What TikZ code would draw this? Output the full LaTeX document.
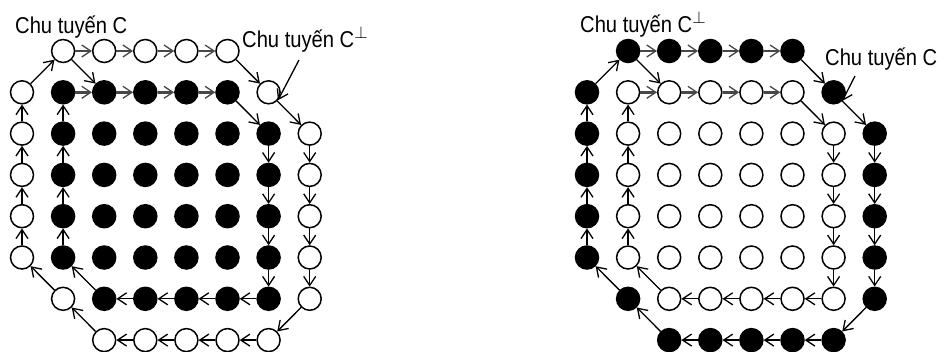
\documentclass[tikz,border=0pt]{standalone}
\usepackage{fontspec}
\setmainfont{Liberation Sans}[FakeStretch=0.88]
\usetikzlibrary{arrows.meta}
\begin{document}
\begin{tikzpicture}[x=1bp,y=-1bp,
  gdot/.style={circle,draw=black,line width=1.5bp,minimum size=23bp,inner sep=0pt},
  link/.style={line width=1.3bp,-{Straight Barb[length=9bp,width=12bp,line width=1.3bp]}},
  toplink/.style={link,line width=2.4bp,draw=black!72},
  lbl/.style={font=\fontsize{23}{26}\selectfont,inner sep=0pt,anchor=base west}]
\useasboundingbox (0,0) rectangle (944,351);
\foreach \p/\ox/\oc/\ic in {L/22/white/black, R/587/black/white} {
  % interior points
  \foreach \i in {2,...,5} \foreach \j in {2,...,5}
    \node[gdot,fill=\ic] (\p-\i-\j) at ({\ox+41.1*\i},{51+41.3*\j}) {};
  % outer contour points
  \foreach \i/\j in {1/0,2/0,3/0,4/0,5/0,6/1,7/2,7/3,7/4,7/5,7/6,6/7,5/7,4/7,3/7,2/7,1/6,0/5,0/4,0/3,0/2,0/1}
    \node[gdot,fill=\oc] (\p-\i-\j) at ({\ox+41.1*\i},{51+41.3*\j}) {};
  % inner contour points
  \foreach \i/\j in {1/1,2/1,3/1,4/1,5/1,6/2,6/3,6/4,6/5,6/6,5/6,4/6,3/6,2/6,1/5,1/4,1/3,1/2}
    \node[gdot,fill=\ic] (\p-\i-\j) at ({\ox+41.1*\i},{51+41.3*\j}) {};
  % top rows (thick)
  \foreach \a/\b in {1-0/2-0,2-0/3-0,3-0/4-0,4-0/5-0,1-1/2-1,2-1/3-1,3-1/4-1,4-1/5-1}
    \draw[toplink] (\p-\a) -- (\p-\b);
  % outer contour
  \foreach \a/\b in {5-0/6-1,6-1/7-2,7-2/7-3,7-3/7-4,7-4/7-5,7-5/7-6,7-6/6-7,6-7/5-7,5-7/4-7,4-7/3-7,3-7/2-7,2-7/1-6,1-6/0-5,0-5/0-4,0-4/0-3,0-3/0-2,0-2/0-1,0-1/1-0}
    \draw[link] (\p-\a) -- (\p-\b);
  % inner contour
  \foreach \a/\b in {5-1/6-2,6-2/6-3,6-3/6-4,6-4/6-5,6-5/6-6,6-6/5-6,5-6/4-6,4-6/3-6,3-6/2-6,2-6/1-5,1-5/1-4,1-4/1-3,1-3/1-2,1-2/1-1}
    \draw[link] (\p-\a) -- (\p-\b);
  % crossing arrow
  \draw[link] (\p-1-0) -- (\p-2-1);
}
% labels
\node[lbl] (lC) at (15,33) {Chu tuyến C};
\node[lbl] (lCp) at (242,47) {Chu tuyến C$^{\perp}$};
\node[lbl] (rCp) at (580,32) {Chu tuyến C$^{\perp}$};
\node[lbl] (rC) at (825,65) {Chu tuyến C};
\coordinate (lptr) at (299,60);
\coordinate (rptr) at (855,76);
\draw[link] (lptr) -- (L-6-1.-40);
\draw[link] (rptr) -- (R-6-1.-45);
\end{tikzpicture}
\end{document}
